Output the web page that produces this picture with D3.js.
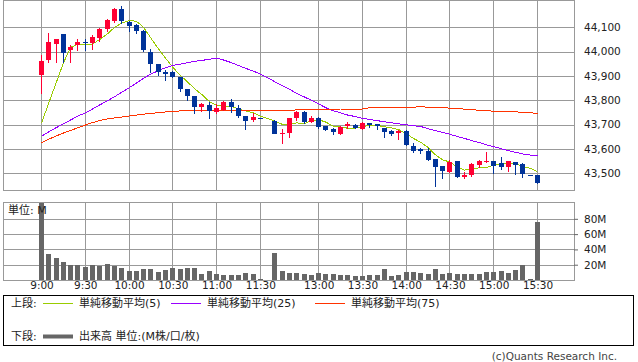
<!DOCTYPE html>
<html>
<head>
<meta charset="utf-8">
<script src="https://cdn.jsdelivr.net/npm/d3@7"></script>
<style>
  body { margin: 0; background: #fff; }
  svg { display: block; }
</style>
</head>
<body>
<div id="chart"></div>
<script>
// 5-minute slots: 0 = 9:00 ... 30 = 11:30, 31 = lunch gap, 32 = 12:30 ... 68 = 15:30
const timeLabels = ['9:00', '9:30', '10:00', '10:30', '11:00', '11:30', '13:00', '13:30', '14:00', '14:30', '15:00', '15:30'];
const timeLabelSlots = [0, 6, 12, 18, 24, 30, 38, 44, 50, 56, 62, 68];

const priceTicks = [43500, 43600, 43700, 43800, 43900, 44000, 44100];
const volumeTicks = [20, 40, 60, 80];

const openValues = [
  43904, 43966, 44033, 44073, 44007, 44026, 44040, 44034, 44057, 44092,
  44126, 44175, 44122, 44110, 44086, 44000, 43949, 43918, 43916, 43895,
  43845, 43818, 43771, 43781, 43749, 43760, 43793, 43767, 43735, 43722,
  43729, null, 43716, 43663, 43664, 43726, 43751, 43710, 43726, 43694,
  43681, 43664, 43692, 43700, 43683, 43705, 43701, 43687, 43674, 43667,
  43674, 43612, 43599, 43593, 43558, 43530, 43507, 43551, 43486, 43493,
  43534, 43546, 43551, 43541, 43527, 43548, 43538, 43493, 43493
];
const highValues = [
  43985, 44078, 44052, 44073, 44029, 44052, 44052, 44070, 44097, 44135,
  44179, 44189, 44127, 44112, 44090, 44010, 43949, 43925, 43922, 43897,
  43845, 43818, 43788, 43794, 43785, 43797, 43804, 43781, 43735, 43747,
  43729, null, 43720, 43681, 43726, 43757, 43757, 43735, 43730, 43694,
  43687, 43696, 43710, 43702, 43711, 43708, 43701, 43687, 43678, 43677,
  43677, 43623, 43603, 43603, 43558, 43530, 43555, 43551, 43504, 43541,
  43555, 43586, 43551, 43568, 43551, 43548, 43541, 43493, 43493
];
const lowValues = [
  43831, 43956, 43957, 43957, 43957, 44007, 44007, 44011, 44044, 44086,
  44121, 44119, 44086, 44075, 44003, 43918, 43905, 43884, 43897, 43839,
  43801, 43749, 43757, 43726, 43747, 43760, 43753, 43733, 43683, 43716,
  43728, null, 43664, 43626, 43650, 43719, 43706, 43710, 43687, 43678,
  43662, 43662, 43685, 43686, 43683, 43692, 43681, 43650, 43657, 43642,
  43616, 43589, 43582, 43553, 43448, 43479, 43507, 43486, 43479, 43490,
  43527, 43545, 43502, 43518, 43511, 43497, 43486, 43492, 43459
];
const closeValues = [
  43962, 44040, 44052, 43996, 44020, 44040, 44038, 44060, 44094, 44130,
  44175, 44127, 44107, 44086, 44007, 43950, 43916, 43908, 43897, 43845,
  43815, 43771, 43785, 43757, 43767, 43793, 43771, 43733, 43716, 43733,
  43728, null, 43664, 43667, 43726, 43751, 43708, 43727, 43687, 43678,
  43667, 43692, 43701, 43686, 43708, 43697, 43692, 43671, 43662, 43675,
  43616, 43593, 43590, 43555, 43527, 43511, 43548, 43486, 43493, 43538,
  43552, 43551, 43531, 43523, 43551, 43537, 43496, 43492, 43459
];

const sma5Values = [
  43706, 43789, 43871, 43953, 44018, 44030, 44029, 44031, 44050, 44072,
  44099, 44117, 44127, 44125, 44100, 44055, 44013, 43973, 43936, 43903,
  43876, 43847, 43823, 43795, 43779, 43775, 43775, 43764, 43756, 43749,
  43735, null, 43714, 43701, 43703, 43707, 43703, 43716, 43720, 43710,
  43693, 43690, 43685, 43685, 43691, 43697, 43697, 43691, 43686, 43679,
  43663, 43643, 43627, 43606, 43576, 43555, 43546, 43525, 43513, 43515,
  43523, 43524, 43533, 43539, 43542, 43539, 43528, 43520, 43507
];
const sma25Values = [
  43652, 43670, 43687, 43703, 43719, 43735, 43748, 43764, 43781, 43797,
  43814, 43833, 43851, 43870, 43890, 43908, 43921, 43934, 43943, 43948,
  43954, 43960, 43964, 43968, 43973, 43965, 43955, 43943, 43931, 43920,
  43908, null, 43876, 43860, 43845, 43828, 43814, 43800, 43785, 43769,
  43757, 43748, 43739, 43733, 43726, 43721, 43716, 43712, 43707, 43703,
  43699, 43695, 43692, 43683, 43675, 43668, 43660, 43651, 43643, 43634,
  43626, 43617, 43609, 43601, 43593, 43586, 43579, 43575, 43571
];
const sma75Values = [
  43626, 43640, 43653, 43665, 43676, 43687, 43698, 43708, 43717, 43723,
  43727, 43731, 43735, 43739, 43743, 43746, 43749, 43752, 43754, 43756,
  43757, 43758, 43759, 43759, 43760, 43758, 43757, 43756, 43756, 43756,
  43756, null, 43756, 43756, 43756, 43761, 43761, 43761, 43761, 43761,
  43761, 43764, 43764, 43764, 43764, 43769, 43769, 43771, 43771, 43771,
  43771, 43771, 43774, 43771, 43771, 43771, 43767, 43767, 43763, 43763,
  43757, 43757, 43755, 43755, 43754, 43753, 43749, 43749, 43745
];

// volume in millions
const volumeValues = [
  101, 34, 29, 24, 19.6, 19.6, 17.4, 19.6, 18.7, 20.9,
  18.7, 16.1, 11.8, 11.8, 14.4, 14.4, 10.5, 12.6, 15.7, 14.4,
  15.7, 15.7, 7.4, 11.3, 7.4, 6.5, 6.5, 6.5, 8.7, 7.4,
  1.3, null, 34.8, 11.8, 9.1, 9.1, 7.8, 6.5, 9.1, 7.8,
  7.8, 6.5, 6.5, 5.7, 5.7, 6.5, 6.5, 14.4, 5.7, 6.5,
  10.5, 10.5, 8.7, 7.8, 14.4, 7.8, 8.7, 7.4, 7.4, 7.8,
  7.8, 10.5, 10.5, 11.8, 9.1, 12.6, 19.2, 0.9, 75.4
];

class IntradayChart {
  constructor(container, config) {
    this.container = container;

    let defaults = {
      width: 638,
      height: 362,
      plotLeft: 3,
      plotRight: 574,
      priceTop: 0,
      priceBottom: 190,
      volumeTop: 202,
      volumeBottom: 280,
      firstSlotX: 41,
      lastSlotX: 537,
      bodyWidth: 5,
      upColor: '#ff0033',
      downColor: '#003399',
      volumeColor: '#666666',
      gridColor: '#999999',
      fontFamily: "'DejaVu Sans', 'Noto Sans CJK JP', sans-serif",
      fontSize: 10.5,
      fontColor: '#222',
      averages: [
        { values: sma5Values, color: '#99cc00', label: '単純移動平均(5)' },
        { values: sma25Values, color: '#9900ff', label: '単純移動平均(25)' },
        { values: sma75Values, color: '#ff3300', label: '単純移動平均(75)' }
      ]
    };
    Object.assign(this, defaults, config);

    this.init();
  }

  init() {
    this.drawSvg();
    this.initScales();
    this.drawPanels();
    this.drawTimeAxis();
    this.drawAverages();
    this.drawCandles();
    this.drawVolume();
    this.drawUnitLabel();
    this.drawLegend();
  }

  drawSvg() {
    this.svg = d3.select(this.container)
      .append('svg')
      .attr('width', this.width)
      .attr('height', this.height)
      .attr('viewBox', `0 0 ${this.width} ${this.height}`)
      .style('font-family', this.fontFamily);
  }

  initScales() {
    this.slots = d3.range(openValues.length);
    this.x = d3.scaleLinear()
      .domain([0, this.slots.length - 1])
      .range([this.firstSlotX, this.lastSlotX]);
    this.yPrice = d3.scaleLinear()
      .domain([43429, 44210])
      .range([this.priceBottom + 0.5, this.priceTop + 0.5]);
    this.yVolume = d3.scaleLinear()
      .domain([0, 102])
      .range([this.volumeBottom, this.volumeTop]);
  }

  px(v) {
    return Math.round(v) + 0.5;
  }

  drawPanels() {
    let grid = this.svg.append('g').attr('class', 'grid')
      .attr('stroke', this.gridColor)
      .attr('stroke-width', 1)
      .attr('fill', 'none');

    // price panel
    grid.selectAll('line.price-h')
      .data(priceTicks)
      .join('line')
      .attr('class', 'price-h')
      .attr('x1', this.plotLeft).attr('x2', this.plotRight)
      .attr('y1', d => this.px(this.yPrice(d))).attr('y2', d => this.px(this.yPrice(d)));

    grid.selectAll('line.price-v')
      .data(timeLabelSlots)
      .join('line')
      .attr('class', 'price-v')
      .attr('x1', d => this.px(this.x(d))).attr('x2', d => this.px(this.x(d)))
      .attr('y1', this.priceTop).attr('y2', this.priceBottom);

    grid.append('rect')
      .attr('x', this.plotLeft + 0.5).attr('y', this.priceTop + 0.5)
      .attr('width', this.plotRight - this.plotLeft).attr('height', this.priceBottom - this.priceTop);

    // volume panel
    grid.selectAll('line.vol-h')
      .data(volumeTicks)
      .join('line')
      .attr('class', 'vol-h')
      .attr('x1', this.plotLeft).attr('x2', this.plotRight)
      .attr('y1', d => this.px(this.yVolume(d))).attr('y2', d => this.px(this.yVolume(d)));

    grid.selectAll('line.vol-v')
      .data(timeLabelSlots)
      .join('line')
      .attr('class', 'vol-v')
      .attr('x1', d => this.px(this.x(d))).attr('x2', d => this.px(this.x(d)))
      .attr('y1', this.volumeTop).attr('y2', this.volumeBottom);

    grid.append('rect')
      .attr('x', this.plotLeft + 0.5).attr('y', this.volumeTop + 0.5)
      .attr('width', this.plotRight - this.plotLeft).attr('height', this.volumeBottom - this.volumeTop);

    // right side value axes
    let priceAxis = d3.axisRight(this.yPrice)
      .tickValues(priceTicks)
      .tickSize(0)
      .tickPadding(10)
      .tickFormat(d3.format(','));
    let pa = this.svg.append('g')
      .attr('transform', `translate(${this.plotRight}, 0)`)
      .call(priceAxis);
    this.styleAxis(pa);

    let volumeAxis = d3.axisRight(this.yVolume)
      .tickValues(volumeTicks)
      .tickSize(4)
      .tickPadding(6)
      .tickFormat(d => `${d}M`);
    let va = this.svg.append('g')
      .attr('transform', `translate(${this.plotRight}, 0)`)
      .call(volumeAxis);
    this.styleAxis(va);
  }

  styleAxis(g) {
    g.select('.domain').remove();
    g.selectAll('.tick line').attr('stroke', '#666');
    g.selectAll('.tick text')
      .attr('font-family', this.fontFamily)
      .attr('font-size', this.fontSize)
      .attr('fill', this.fontColor);
  }

  drawTimeAxis() {
    let timeAxis = d3.axisBottom(this.x)
      .tickValues(timeLabelSlots)
      .tickSize(0)
      .tickPadding(2)
      .tickFormat((d, i) => timeLabels[i]);
    let ta = this.svg.append('g')
      .attr('transform', `translate(0.5, ${this.volumeBottom})`)
      .call(timeAxis);
    this.styleAxis(ta);
  }

  drawAverages() {
    let g = this.svg.append('g').attr('class', 'averages');
    this.averages.forEach((avg) => {
      let pts = this.slots.filter(i => avg.values[i] != null);
      let line = d3.line()
        .x(i => this.x(i) + 0.5)
        .y(i => this.yPrice(avg.values[i]));
      g.append('path')
        .datum(pts)
        .attr('d', line)
        .attr('fill', 'none')
        .attr('stroke', avg.color)
        .attr('stroke-width', 1)
        .attr('shape-rendering', 'crispEdges');
    });
  }

  drawCandles() {
    let pts = this.slots.filter(i => openValues[i] != null);
    let g = this.svg.append('g').attr('class', 'candles');
    let candle = g.selectAll('g.candle')
      .data(pts)
      .join('g')
      .attr('class', 'candle');

    let color = i => (closeValues[i] > openValues[i] ? this.upColor : this.downColor);

    candle.append('line')
      .attr('x1', i => this.px(this.x(i))).attr('x2', i => this.px(this.x(i)))
      .attr('y1', i => Math.round(this.yPrice(highValues[i])))
      .attr('y2', i => Math.round(this.yPrice(lowValues[i])) + 1)
      .attr('stroke', color)
      .attr('stroke-width', 1);

    candle.append('rect')
      .attr('x', i => Math.round(this.x(i)) - Math.floor(this.bodyWidth / 2))
      .attr('width', this.bodyWidth)
      .attr('y', i => Math.round(this.yPrice(Math.max(openValues[i], closeValues[i]))))
      .attr('height', i => Math.max(1, Math.round(Math.abs(this.yPrice(openValues[i]) - this.yPrice(closeValues[i])))))
      .attr('fill', color);
  }

  drawVolume() {
    let pts = this.slots.filter(i => volumeValues[i] != null);
    let top = i => Math.max(this.volumeTop + 1, Math.round(this.yVolume(volumeValues[i])));
    this.svg.append('g').attr('class', 'volume')
      .selectAll('rect')
      .data(pts)
      .join('rect')
      .attr('x', i => Math.round(this.x(i)) - 2)
      .attr('width', this.bodyWidth)
      .attr('y', top)
      .attr('height', i => this.volumeBottom - top(i))
      .attr('fill', this.volumeColor);
  }

  drawUnitLabel() {
    this.svg.append('text')
      .attr('x', 8)
      .attr('y', this.volumeTop + 12)
      .attr('font-size', 11)
      .attr('fill', this.fontColor)
      .text('単位: M');
  }

  drawLegend() {
    let g = this.svg.append('g').attr('class', 'legend')
      .attr('font-size', 11)
      .attr('fill', this.fontColor);

    g.append('rect')
      .attr('x', 3.5).attr('y', 295.5)
      .attr('width', 630).attr('height', 50)
      .attr('fill', 'none')
      .attr('stroke', '#000');

    let rowTop = 303.5;
    let rowBottom = 336.5;

    g.append('text').attr('x', 11).attr('y', rowTop).attr('dy', '0.36em').text('上段:');
    let itemX = [43, 171, 315];
    this.averages.forEach((avg, k) => {
      g.append('line')
        .attr('x1', itemX[k]).attr('x2', itemX[k] + 30)
        .attr('y1', rowTop).attr('y2', rowTop)
        .attr('stroke', avg.color)
        .attr('stroke-width', 1);
      g.append('text')
        .attr('x', itemX[k] + 36).attr('y', rowTop).attr('dy', '0.36em')
        .text(avg.label);
    });

    g.append('text').attr('x', 11).attr('y', rowBottom).attr('dy', '0.36em').text('下段:');
    g.append('line')
      .attr('x1', 43).attr('x2', 73)
      .attr('y1', rowBottom).attr('y2', rowBottom)
      .attr('stroke', this.volumeColor)
      .attr('stroke-width', 4);
    g.append('text')
      .attr('x', 79).attr('y', rowBottom).attr('dy', '0.36em')
      .text('出来高 単位:(M株/口/枚)');

    this.svg.append('text')
      .attr('x', 617).attr('y', 356).attr('dy', '0.36em')
      .attr('text-anchor', 'end')
      .attr('font-size', 10.5)
      .attr('fill', '#444')
      .text('(c)Quants Research Inc.');
  }
}

new IntradayChart(document.getElementById('chart'));
</script>
</body>
</html>
